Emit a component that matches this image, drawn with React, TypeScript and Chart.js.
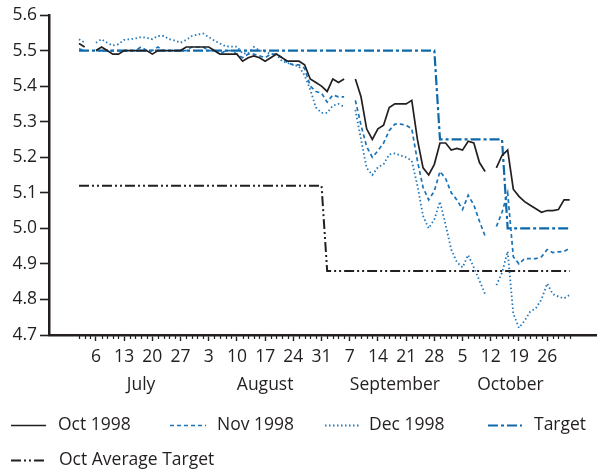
import React, { useEffect, useRef } from "react";
import { Chart, registerables } from "chart.js";
Chart.register(...registerables);

// Business days, July–October 1998
const julyDays = [1, 2, 3, 6, 7, 8, 9, 10, 13, 14, 15, 16, 17, 20, 21, 22, 23, 24, 27, 28, 29, 30, 31];
const augustDays = [3, 4, 5, 6, 7, 10, 11, 12, 13, 14, 17, 18, 19, 20, 21, 24, 25, 26, 27, 28, 31];
const septemberDays = [1, 2, 3, 4, 7, 8, 9, 10, 11, 14, 15, 16, 17, 18, 21, 22, 23, 24, 25, 28, 29, 30];
const octoberDays = [1, 2, 5, 6, 7, 8, 9, 12, 13, 14, 15, 16, 19, 20, 21, 22, 23, 26, 27, 28, 29, 30];
const monthNames = ["July", "August", "September", "October"];
const monthLabelAt = [11, 33, 56, 76.5];
const yTicks = [4.7, 4.8, 4.9, 5.0, 5.1, 5.2, 5.3, 5.4, 5.5, 5.6];

const oct1998: (number | null)[] = [
  5.52, 5.51, null, 5.50, 5.51, 5.50, 5.49, 5.49, 5.50, 5.50,
  5.50, 5.50, 5.50, 5.49, 5.50, 5.50, 5.50, 5.50, 5.50, 5.51,
  5.51, 5.51, 5.51, 5.51, 5.50, 5.49, 5.49, 5.49, 5.49, 5.47,
  5.48, 5.485, 5.48, 5.47, 5.48, 5.49, 5.48, 5.47, 5.47, 5.47,
  5.46, 5.42, 5.41, 5.40, 5.385, 5.42, 5.41, 5.42, null, 5.42,
  5.37, 5.28, 5.25, 5.28, 5.29, 5.34, 5.35, 5.35, 5.35, 5.36,
  5.25, 5.17, 5.15, 5.18, 5.24, 5.24, 5.22, 5.225, 5.22, 5.245,
  5.24, 5.185, 5.16, null, 5.17, 5.205, 5.22, 5.11, 5.09, 5.075,
  5.065, 5.055, 5.045, 5.05, 5.05, 5.053, 5.08, 5.08,
];
const nov1998: (number | null)[] = [
  5.505, 5.50, null, 5.50, 5.50, 5.50, 5.50, 5.50, 5.50, 5.50,
  5.50, 5.51, 5.50, 5.50, 5.51, 5.50, 5.50, 5.50, 5.50, 5.50,
  5.51, 5.51, 5.51, 5.50, 5.50, 5.49, 5.50, 5.50, 5.49, 5.48,
  5.49, 5.49, 5.485, 5.48, 5.49, 5.49, 5.48, 5.465, 5.46, 5.46,
  5.45, 5.40, 5.385, 5.38, 5.355, 5.375, 5.37, 5.37, null, 5.36,
  5.29, 5.23, 5.20, 5.218, 5.24, 5.275, 5.293, 5.293, 5.29, 5.28,
  5.19, 5.115, 5.08, 5.105, 5.16, 5.14, 5.10, 5.08, 5.053, 5.093,
  5.066, 5.02, 4.978, null, 5.005, 5.045, 5.10, 4.92, 4.90, 4.915,
  4.915, 4.915, 4.92, 4.94, 4.932, 4.934, 4.935, 4.944,
];
const dec1998: (number | null)[] = [
  5.532, 5.522, null, 5.522, 5.532, 5.522, 5.514, 5.518, 5.53, 5.532,
  5.534, 5.538, 5.536, 5.532, 5.541, 5.541, 5.532, 5.528, 5.522, 5.53,
  5.541, 5.545, 5.548, 5.538, 5.528, 5.52, 5.512, 5.511, 5.511, 5.492,
  5.492, 5.51, 5.50, 5.497, 5.49, 5.49, 5.47, 5.465, 5.46, 5.455,
  5.43, 5.39, 5.34, 5.325, 5.325, 5.345, 5.35, 5.342, null, 5.333,
  5.25, 5.17, 5.15, 5.172, 5.18, 5.208, 5.211, 5.205, 5.20, 5.19,
  5.12, 5.035, 5.00, 5.025, 5.075, 5.01, 4.94, 4.905, 4.89, 4.925,
  4.89, 4.853, 4.815, null, 4.84, 4.875, 4.935, 4.76, 4.72, 4.74,
  4.766, 4.775, 4.80, 4.845, 4.815, 4.808, 4.803, 4.813,
];
const target: number[] = [
  5.5, 5.5, 5.5, 5.5, 5.5, 5.5, 5.5, 5.5, 5.5, 5.5,
  5.5, 5.5, 5.5, 5.5, 5.5, 5.5, 5.5, 5.5, 5.5, 5.5,
  5.5, 5.5, 5.5, 5.5, 5.5, 5.5, 5.5, 5.5, 5.5, 5.5,
  5.5, 5.5, 5.5, 5.5, 5.5, 5.5, 5.5, 5.5, 5.5, 5.5,
  5.5, 5.5, 5.5, 5.5, 5.5, 5.5, 5.5, 5.5, 5.5, 5.5,
  5.5, 5.5, 5.5, 5.5, 5.5, 5.5, 5.5, 5.5, 5.5, 5.5,
  5.5, 5.5, 5.5, 5.5, 5.25, 5.25, 5.25, 5.25, 5.25, 5.25,
  5.25, 5.25, 5.25, 5.25, 5.25, 5.25, 5.0, 5.0, 5.0, 5.0,
  5.0, 5.0, 5.0, 5.0, 5.0, 5.0, 5.0, 5.0,
];
const octAverageTarget: number[] = [
  5.12, 5.12, 5.12, 5.12, 5.12, 5.12, 5.12, 5.12, 5.12, 5.12,
  5.12, 5.12, 5.12, 5.12, 5.12, 5.12, 5.12, 5.12, 5.12, 5.12,
  5.12, 5.12, 5.12, 5.12, 5.12, 5.12, 5.12, 5.12, 5.12, 5.12,
  5.12, 5.12, 5.12, 5.12, 5.12, 5.12, 5.12, 5.12, 5.12, 5.12,
  5.12, 5.12, 5.12, 5.12, 4.88, 4.88, 4.88, 4.88, 4.88, 4.88,
  4.88, 4.88, 4.88, 4.88, 4.88, 4.88, 4.88, 4.88, 4.88, 4.88,
  4.88, 4.88, 4.88, 4.88, 4.88, 4.88, 4.88, 4.88, 4.88, 4.88,
  4.88, 4.88, 4.88, 4.88, 4.88, 4.88, 4.88, 4.88, 4.88, 4.88,
  4.88, 4.88, 4.88, 4.88, 4.88, 4.88, 4.88, 4.88,
];
const seriesNames = ["Oct 1998", "Nov 1998", "Dec 1998", "Target", "Oct Average Target"];

const FONT = "'Open Sans', 'DejaVu Sans', sans-serif";
const INK = "#231f20";
const FS = 17.5;

export default function App() {
  const ref = useRef<HTMLCanvasElement | null>(null);
  useEffect(() => {
    document.body.style.margin = "0";
    const canvas = ref.current;
    if (!canvas) return;

    const dates: { m: number; d: number }[] = [];
    [julyDays, augustDays, septemberDays, octoberDays].forEach((arr, mi) =>
      arr.forEach((d) => dates.push({ m: 6 + mi, d }))
    );
    const mondayIdx: number[] = [];
    dates.forEach((dt, i) => {
      if (new Date(1998, dt.m, dt.d).getDay() === 1) mondayIdx.push(i);
    });
    const toXY = (arr: (number | null)[]) => arr.map((y, i) => ({ x: i, y }));

    const decor = {
      id: "decor",
      afterDraw(chart: any) {
        const c = chart.ctx;
        const xs = chart.scales.x;
        const bottom = chart.chartArea.bottom;
        c.save();
        // minor ticks for each business day
        c.strokeStyle = INK;
        c.lineWidth = 1.2;
        dates.forEach((_, i) => {
          if (mondayIdx.includes(i)) return;
          const px = Math.round(xs.getPixelForValue(i)) + 0.5;
          c.beginPath();
          c.moveTo(px, bottom);
          c.lineTo(px, bottom + 4);
          c.stroke();
        });
        // month labels
        c.fillStyle = INK;
        c.font = `${FS}px ${FONT}`;
        c.textAlign = "center";
        c.textBaseline = "middle";
        monthNames.forEach((n, k) => {
          c.fillText(n, xs.getPixelForValue(monthLabelAt[k]), 385);
        });
        // legend
        const items = [
          { ds: 0, x0: 11, x1: 46, tx: 58, y: 425 },
          { ds: 1, x0: 170, x1: 206, tx: 217, y: 425 },
          { ds: 2, x0: 325, x1: 359, tx: 369, y: 425 },
          { ds: 3, x0: 488, x1: 522, tx: 534, y: 425 },
          { ds: 4, x0: 11, x1: 46, tx: 59, y: 460 },
        ];
        c.textAlign = "left";
        items.forEach((it) => {
          const ds = chart.data.datasets[it.ds];
          c.save();
          c.strokeStyle = ds.borderColor;
          c.lineWidth = ds.borderWidth;
          c.setLineDash(ds.borderDash || []);
          c.beginPath();
          c.moveTo(it.x0, it.y + 0.5);
          c.lineTo(it.x1, it.y + 0.5);
          c.stroke();
          c.restore();
          c.fillStyle = INK;
          c.fillText(ds.label, it.tx, it.y);
        });
        c.restore();
      },
    };

    const chart = new Chart(canvas, {
      type: "line",
      data: {
        datasets: [
          { label: seriesNames[0], data: toXY(oct1998), borderColor: INK, borderWidth: 1.7, borderDash: [], pointRadius: 0, spanGaps: false, tension: 0 },
          { label: seriesNames[1], data: toXY(nov1998), borderColor: "#1c74b8", borderWidth: 1.7, borderDash: [4, 3], pointRadius: 0, spanGaps: false, tension: 0 },
          { label: seriesNames[2], data: toXY(dec1998), borderColor: "#2278bb", borderWidth: 1.8, borderDash: [1.5, 2.5], pointRadius: 0, spanGaps: false, tension: 0 },
          { label: seriesNames[3], data: toXY(target), borderColor: "#0d69aa", borderWidth: 2.2, borderDash: [10, 3, 3, 3], pointRadius: 0, tension: 0 },
          { label: seriesNames[4], data: toXY(octAverageTarget), borderColor: INK, borderWidth: 2, borderDash: [10, 3, 2, 3, 2, 3], pointRadius: 0, tension: 0 },
        ] as any,
      },
      options: {
        animation: false,
        responsive: false,
        devicePixelRatio: 1,
        layout: { padding: { top: 15, right: 0, left: 0, bottom: 0 } },
        plugins: { legend: { display: false }, tooltip: { enabled: false } },
        scales: {
          x: {
            type: "linear",
            min: -5.32,
            max: 91.84,
            afterBuildTicks: (s: any) => {
              s.ticks = mondayIdx.map((v) => ({ value: v }));
            },
            afterFit: (s: any) => {
              s.height = 137;
            },
            ticks: {
              autoSkip: false,
              maxRotation: 0,
              padding: 6,
              color: INK,
              font: { family: FONT, size: FS },
              callback: (v: any) => String(dates[v as number]?.d ?? ""),
            },
            grid: { drawOnChartArea: false, tickLength: 6, tickColor: INK, tickWidth: 1.4 },
            border: { color: INK, width: 2.5 },
          },
          y: {
            min: 4.7,
            max: 5.6,
            afterBuildTicks: (s: any) => {
              s.ticks = yTicks.map((v) => ({ value: v }));
            },
            afterFit: (s: any) => {
              s.width = 49;
            },
            ticks: {
              padding: 3,
              color: INK,
              font: { family: FONT, size: FS },
              callback: (v: any) => Number(v).toFixed(1),
            },
            grid: { drawOnChartArea: false, tickLength: 9, tickColor: INK, tickWidth: 1.6 },
            border: { color: INK, width: 2.5 },
          },
        },
      },
      plugins: [decor],
    });
    return () => chart.destroy();
  }, []);
  return (
    <div style={{ width: 597, height: 472, background: "#fff" }}>
      <canvas ref={ref} width={597} height={472} style={{ display: "block" }} />
    </div>
  );
}
